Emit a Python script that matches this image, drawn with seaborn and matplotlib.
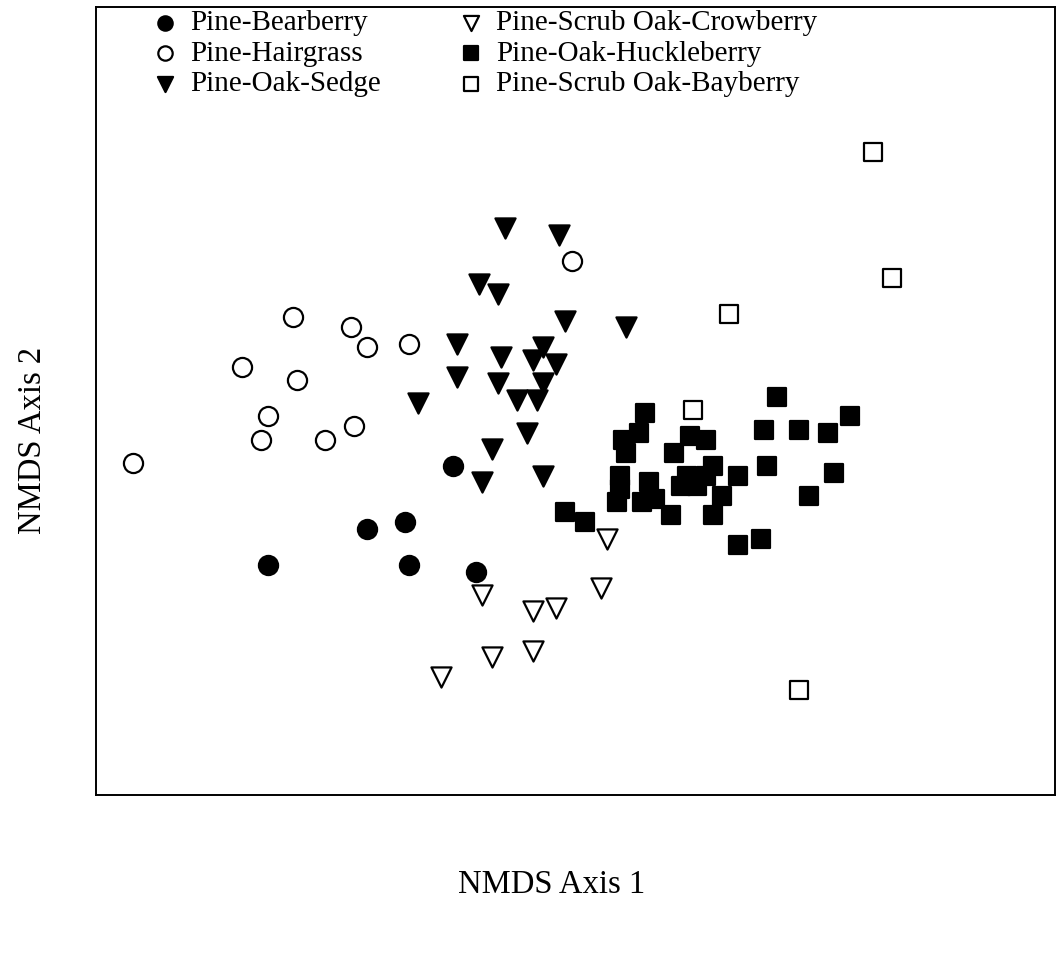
import matplotlib
matplotlib.use("Agg")
import matplotlib.pyplot as plt
import seaborn as sns

# NMDS scores, one group per community type
bearberry_x = [-0.38, -0.65, -0.53, -0.96, -0.52, -0.31]
bearberry_y = [-0.20, -0.39, -0.37, -0.50, -0.50, -0.52]

hairgrass_x = [-0.88, -0.70, -0.65, -0.52, -1.04, -0.87, -0.96, -0.98, -0.78, -0.69, -1.38, -0.01]
hairgrass_y = [0.25, 0.22, 0.16, 0.17, 0.10, 0.06, -0.05, -0.12, -0.12, -0.08, -0.19, 0.42]

sedge_x = [-0.22, -0.05, -0.30, -0.24, -0.03, 0.16, -0.37, -0.10, -0.23, -0.13, -0.06,
           -0.37, -0.24, -0.10, -0.18, -0.12, -0.49, -0.15, -0.26, -0.29, -0.10]
sedge_y = [0.52, 0.50, 0.35, 0.32, 0.24, 0.22, 0.17, 0.16, 0.13, 0.12, 0.11,
           0.07, 0.05, 0.05, 0.00, 0.00, -0.01, -0.10, -0.15, -0.25, -0.23]

crowberry_x = [0.10, 0.08, -0.29, -0.13, -0.06, -0.13, -0.26, -0.42]
crowberry_y = [-0.42, -0.57, -0.59, -0.64, -0.63, -0.76, -0.78, -0.84]

huckleberry_x = [0.63, 0.86, 0.22, 0.20, 0.15, 0.16, 0.36, 0.41, 0.31, 0.59, 0.70, 0.79,
                 0.43, 0.41, 0.35, 0.33, 0.38, 0.60, 0.51, 0.14, 0.14, 0.23, 0.25, 0.21,
                 0.13, 0.81, 0.46, 0.73, -0.03, 0.03, 0.30, 0.43, 0.51, 0.58]
huckleberry_y = [0.01, -0.05, -0.04, -0.10, -0.12, -0.16, -0.11, -0.12, -0.16, -0.09, -0.09, -0.10,
                 -0.20, -0.23, -0.23, -0.26, -0.26, -0.20, -0.23, -0.23, -0.27, -0.25, -0.30, -0.31,
                 -0.31, -0.22, -0.29, -0.29, -0.34, -0.37, -0.35, -0.35, -0.44, -0.42]

bayberry_x = [0.93, 0.99, 0.48, 0.37, 0.70]
bayberry_y = [0.75, 0.37, 0.26, -0.03, -0.88]

groups = [
    ("Pine-Bearberry", bearberry_x, bearberry_y, "o", "black"),
    ("Pine-Hairgrass", hairgrass_x, hairgrass_y, "o", "white"),
    ("Pine-Oak-Sedge", sedge_x, sedge_y, "v", "black"),
    ("Pine-Scrub Oak-Crowberry", crowberry_x, crowberry_y, "v", "white"),
    ("Pine-Oak-Huckleberry", huckleberry_x, huckleberry_y, "s", "black"),
    ("Pine-Scrub Oak-Bayberry", bayberry_x, bayberry_y, "s", "white"),
]
sizes = {"o": 190, "v": 210, "s": 160}

sns.set_style("white")
plt.rcParams["font.family"] = ["Liberation Serif", "DejaVu Serif"]
plt.rcParams["text.color"] = "black"
plt.rcParams["axes.labelcolor"] = "black"

fig = plt.figure(figsize=(10.62, 9.67), dpi=100)
ax = fig.add_axes([0.0904, 0.1779, 0.903, 0.815])

for name, xs, ys, m, fc in groups:
    sns.scatterplot(x=xs, y=ys, marker=m, s=sizes[m], color=fc, edgecolor="black",
                    linewidth=1.6, label=name, ax=ax)

ax.set_xlim(-1.497, 1.5)
ax.set_ylim(-1.197, 1.191)
ax.set_xticks([])
ax.set_yticks([])
for sp in ax.spines.values():
    sp.set_color("black")
    sp.set_linewidth(1.4)

ax.legend(loc="upper left", bbox_to_anchor=(0.045, 1.011), ncol=2, frameon=False,
          fontsize=21, markerscale=0.75, handlelength=1.0, handletextpad=0.35,
          columnspacing=2.6, labelspacing=0.14, borderaxespad=0)

ax.set_xlabel("NMDS Axis 1", fontsize=23.5)
ax.set_ylabel("NMDS Axis 2", fontsize=23.5)
ax.xaxis.set_label_coords(0.475, -0.095)
ax.yaxis.set_label_coords(-0.05, 0.45)

fig.savefig("out.png", dpi=100)
